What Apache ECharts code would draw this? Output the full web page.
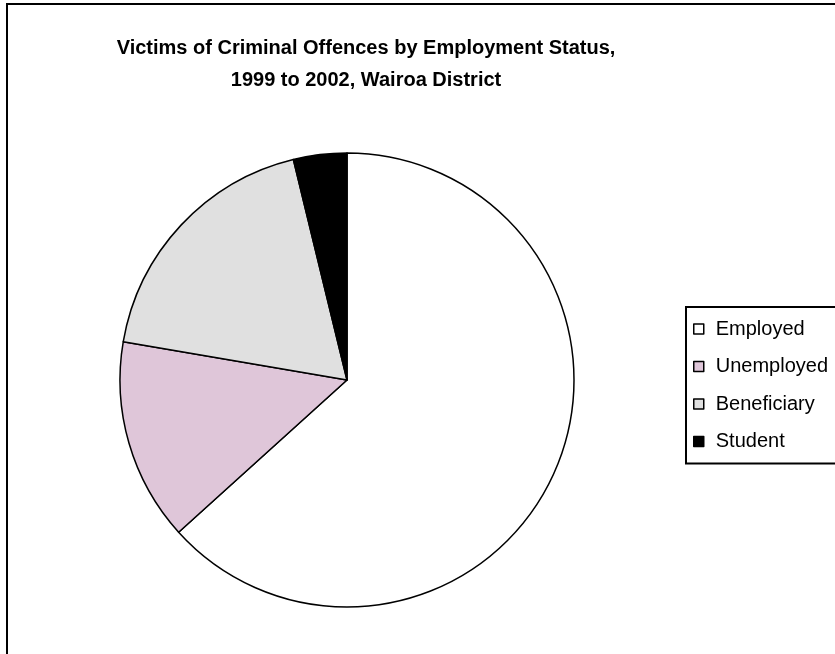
<!DOCTYPE html>
<html>
<head>
<meta charset="utf-8">
<script src="https://cdn.jsdelivr.net/npm/echarts@6/dist/echarts.min.js"></script>
<style>
  html, body { margin: 0; padding: 0; background: #fff; }
  #chart { width: 835px; height: 654px; }
</style>
</head>
<body>
<div id="chart"></div>
<script>
// employment status categories and share of victims (%)
const categories = ['Employed', 'Unemployed', 'Beneficiary', 'Student'];
const shares = [63.3, 14.4, 18.5, 3.8];
const sliceColors = ['#ffffff', '#dfc6d9', '#e0e0e0', '#000000'];

const chart = echarts.init(document.getElementById('chart'), null, { renderer: 'canvas' });

const option = {
    backgroundColor: '#fff',
    animation: false,
    title: {
        text: 'Victims of Criminal Offences by Employment Status,\n1999 to 2002, Wairoa District',
        left: 361,
        textAlign: 'center',
        top: 27,
        textStyle: {
            fontFamily: 'Liberation Sans',
            fontWeight: 'bold',
            fontSize: 20,
            lineHeight: 32,
            color: '#000'
        }
    },
    legend: {
        orient: 'vertical',
        left: 686,
        top: 307,
        padding: [12, 60, 12, 7],
        itemGap: 17.5,
        itemWidth: 10,
        itemHeight: 10,
        icon: 'rect',
        borderColor: '#000',
        borderWidth: 2,
        backgroundColor: '#fff',
        selectedMode: false,
        data: categories,
        itemStyle: { borderColor: '#000', borderWidth: 1.5 },
        textStyle: {
            fontFamily: 'Liberation Sans',
            fontSize: 20,
            lineHeight: 20,
            color: '#000',
            padding: [0, 0, 0, 7]
        }
    },
    graphic: [{
        // outer chart border
        type: 'rect',
        shape: { x: 7, y: 4, width: 900, height: 700 },
        style: { fill: 'none', stroke: '#000', lineWidth: 2 },
        silent: true
    }],
    series: [{
        type: 'pie',
        center: [347, 380],
        radius: 227,
        startAngle: 90,
        clockwise: true,
        label: { show: false },
        labelLine: { show: false },
        emphasis: { disabled: true },
        itemStyle: { borderColor: '#000', borderWidth: 1.5 },
        data: categories.map((name, i) => ({
            name: name,
            value: shares[i],
            itemStyle: { color: sliceColors[i] }
        }))
    }]
};

chart.setOption(option);
</script>
</body>
</html>
